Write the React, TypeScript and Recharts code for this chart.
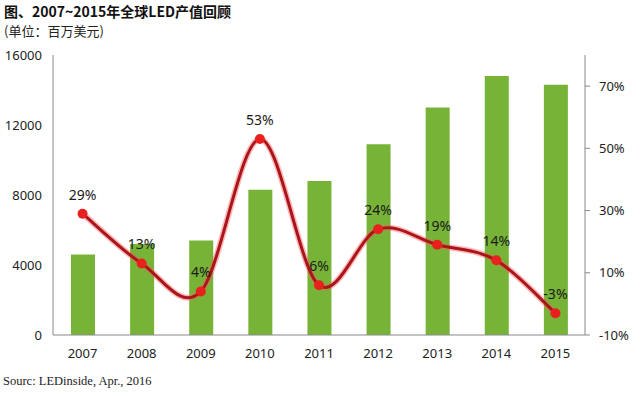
import React from 'react';
import { ComposedChart, Bar, Line, XAxis, YAxis, LabelList } from 'recharts';

const years = ['2007', '2008', '2009', '2010', '2011', '2012', '2013', '2014', '2015'];
const output = [4600, 5200, 5400, 8300, 8800, 10900, 13000, 14800, 14300];
const growth = [29, 13, 4, 53, 6, 24, 19, 14, -3];
const leftTicks = [0, 4000, 8000, 12000, 16000];
const rightTicks = [-10, 10, 30, 50, 70];

const data = years.map((y, i) => ({ year: y, output: output[i], growth: growth[i] }));

function smoothCurve(context: any) {
  let pts: number[][] = [];
  return {
    areaStart() {},
    areaEnd() {},
    lineStart() { pts = []; },
    point(x: number, y: number) { pts.push([+x, +y]); },
    lineEnd() {
      const n = pts.length;
      if (!n) return;
      context.moveTo(pts[0][0], pts[0][1]);
      const t = 1 / 6;
      for (let i = 0; i < n - 1; i++) {
        const p0 = pts[i === 0 ? 0 : i - 1];
        const p1 = pts[i];
        const p2 = pts[i + 1];
        const p3 = pts[i + 2 < n ? i + 2 : n - 1];
        context.bezierCurveTo(
          p1[0] + (p2[0] - p0[0]) * t, p1[1] + (p2[1] - p0[1]) * t,
          p2[0] - (p3[0] - p1[0]) * t, p2[1] - (p3[1] - p1[1]) * t,
          p2[0], p2[1]
        );
      }
    },
  };
}

const tickFont = { fontFamily: 'Noto Sans, sans-serif', fontSize: 13, fill: '#222' };

export default function App() {
  return (
    <div style={{ position: 'absolute', left: 0, top: 0, width: 640, height: 396, background: '#fff' }}>
      <div style={{ position: 'absolute', left: 4, top: 1, fontFamily: '"Noto Sans CJK SC", sans-serif', fontWeight: 700, fontSize: 14, color: '#111', whiteSpace: 'nowrap' }}>
        图、2007~2015年全球LED产值回顾
      </div>
      <div style={{ position: 'absolute', left: 4, top: 21, fontFamily: '"Noto Sans CJK SC", sans-serif', fontSize: 13, color: '#222', whiteSpace: 'nowrap' }}>
        (单位：百万美元)
      </div>
      <ComposedChart width={640} height={396} data={data} margin={{ top: 55, right: 5, bottom: 31, left: 8 }}>
        <XAxis dataKey="year" axisLine={{ stroke: '#888' }} tickLine={false} tick={tickFont} tickMargin={8} height={30} />
        <YAxis yAxisId="left" domain={[0, 16000]} ticks={leftTicks} axisLine={{ stroke: '#888' }} tickLine={false} tick={tickFont} tickMargin={5} width={45} />
        <YAxis yAxisId="right" orientation="right" domain={[-10, 80]} ticks={rightTicks} axisLine={{ stroke: '#888' }} tickLine={{ stroke: '#888' }} tickSize={5} tickMargin={9} tick={tickFont} tickFormatter={(v: number) => `${v}%`} width={50} />
        <Bar yAxisId="left" dataKey="output" fill="#77b337" barSize={24} isAnimationActive={false} />
        <Line yAxisId="right" dataKey="growth" type={smoothCurve as any} stroke="#ff5a5a" strokeOpacity={0.45} strokeWidth={6} dot={false} activeDot={false} isAnimationActive={false} />
        <Line yAxisId="right" dataKey="growth" type={smoothCurve as any} stroke="#a8161b" strokeWidth={3} dot={{ r: 5, fill: '#e8201e', stroke: 'none' }} activeDot={false} isAnimationActive={false}>
          <LabelList dataKey="growth" position="top" offset={14} formatter={(v: any) => `${v}%`} style={{ fontFamily: 'Noto Sans, sans-serif', fontSize: 14, fill: '#1a1a1a' }} />
        </Line>
      </ComposedChart>
      <div style={{ position: 'absolute', left: 3, top: 374, fontFamily: '"Liberation Serif", serif', fontSize: 12.5, color: '#222', whiteSpace: 'nowrap' }}>
        Sourc: LEDinside, Apr., 2016
      </div>
    </div>
  );
}
